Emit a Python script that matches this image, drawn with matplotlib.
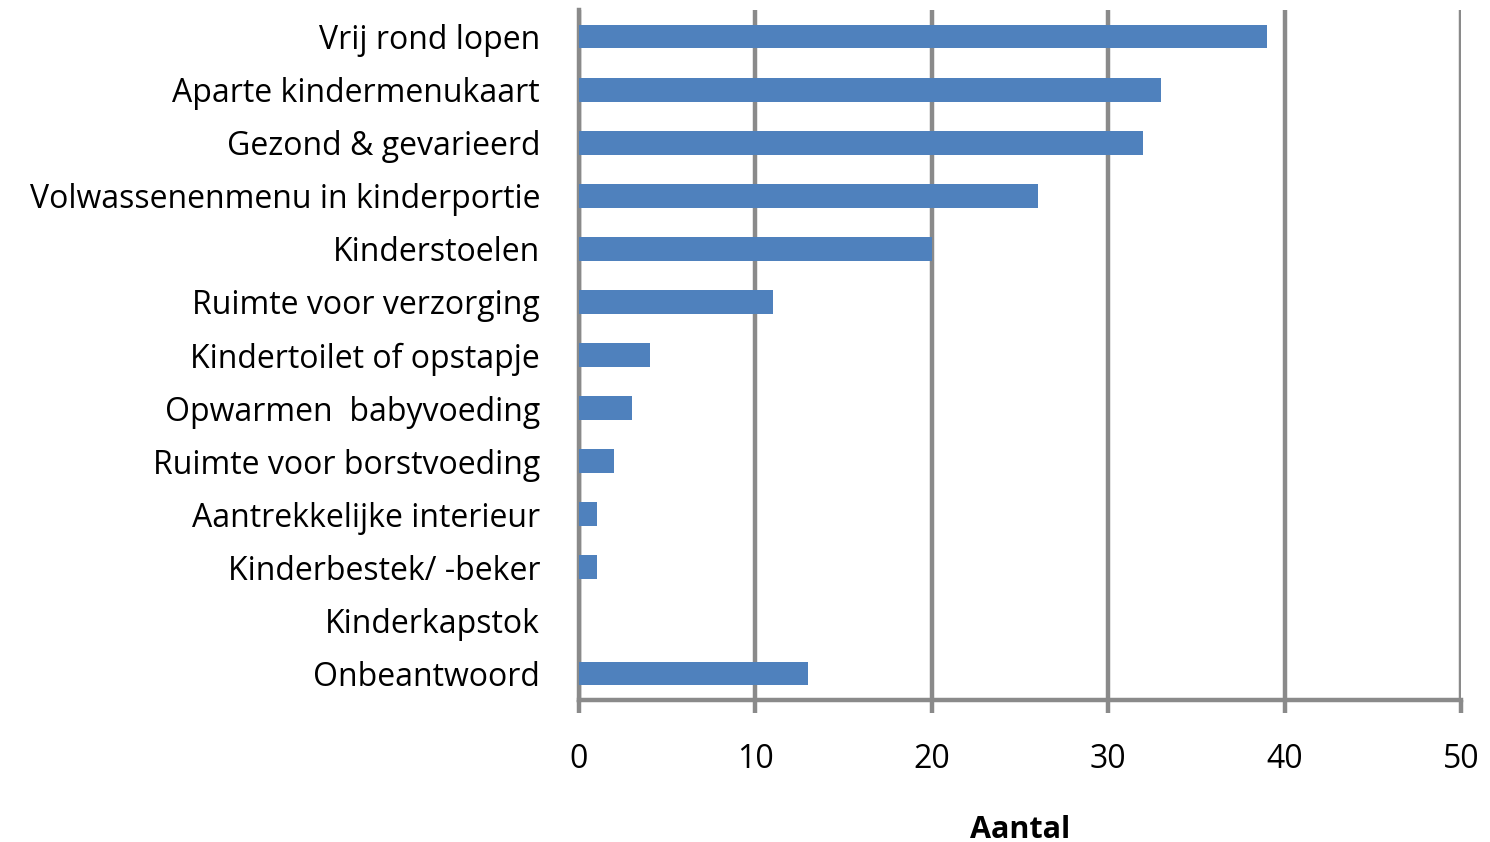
import numpy as np
from matplotlib import pyplot as plt

categories = ['Vrij rond lopen', 'Aparte kindermenukaart', 'Gezond & gevarieerd',
              'Volwassenenmenu in kinderportie', 'Kinderstoelen', 'Ruimte voor verzorging',
              'Kindertoilet of opstapje', 'Opwarmen  babyvoeding', 'Ruimte voor borstvoeding',
              'Aantrekkelijke interieur', 'Kinderbestek/ -beker', 'Kinderkapstok', 'Onbeantwoord']
counts = [39, 33, 32, 26, 20, 11, 4, 3, 2, 1, 1, 0, 13]
x_ticks = [0, 10, 20, 30, 40, 50]

GRID = '#8a8a8a'
plt.rcParams['font.family'] = ['Open Sans', 'DejaVu Sans']

fig = plt.figure(figsize=(14.9, 8.42), dpi=100)
ax = fig.add_axes([579 / 1490, 1 - 700 / 842, (1461 - 579) / 1490, 690 / 842])

y = np.arange(len(categories))
ax.barh(y, counts, height=0.45, color='#4f81bd', zorder=3)

ax.set_xlim(0, 50)
ax.set_ylim(len(categories) - 0.5, -0.5)
ax.set_yticks(y)
ax.set_yticklabels(categories, fontsize=23)
ax.set_xticks(x_ticks)
ax.set_xticklabels([str(t) for t in x_ticks], fontsize=23)
ax.tick_params(axis='y', length=0, pad=28)
ax.tick_params(axis='x', length=9, width=3.2, color=GRID, pad=22)

ax.grid(axis='x', color=GRID, linewidth=3.2, zorder=0)
for side in ['top', 'right']:
    ax.spines[side].set_visible(False)
ax.spines['left'].set_color(GRID)
ax.spines['left'].set_linewidth(3.2)
ax.spines['bottom'].set_color(GRID)
ax.spines['bottom'].set_linewidth(3.2)

ax.set_xlabel('Aantal', fontsize=22, fontweight='bold', labelpad=28)

plt.savefig('out.png')
